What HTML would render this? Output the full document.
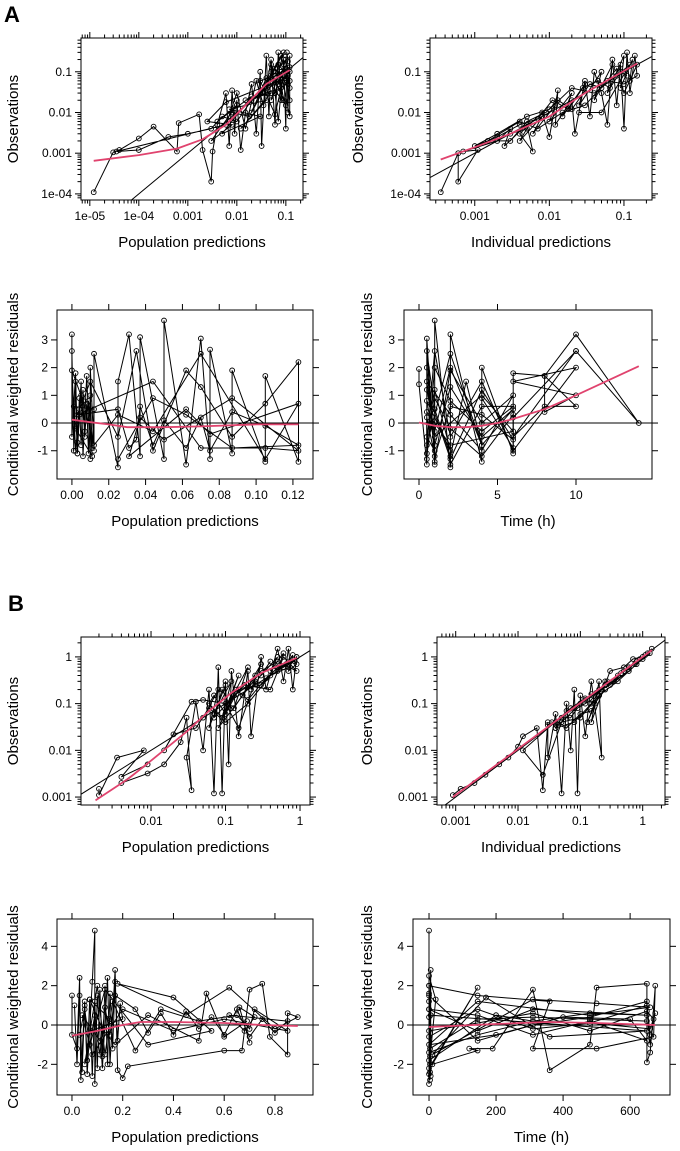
<!DOCTYPE html>
<html><head><meta charset="utf-8"><style>
html,body{margin:0;padding:0;background:#fff}
svg{display:block;font-family:"Liberation Sans",Arial,sans-serif}
</style></head><body>
<svg id="fig" width="680" height="1151" viewBox="0 0 680 1151">
<text x="4" y="22" font-size="22" font-weight="bold">A</text>
<text x="8" y="611" font-size="22" font-weight="bold">B</text>
</svg>
<script>
// ---- Panel A1 ----
const a1X=[1.2e-5,3e-5,4e-5,1e-4,2e-4,6e-4,6.5e-4,1.7e-3,2e-3,3e-3,3.2e-3,4e-3,6e-3,7e-3,8e-3,9e-3,1e-2,1.2e-2,1.5e-2,2e-2,2.5e-2,3e-2,3.2e-2,4e-2,4.5e-2,5e-2,6e-2,7e-2,8e-2,9e-2,1e-1,1.05e-1,1.1e-1,1.2e-1,1.2e-1,8e-2,4e-2,2e-2,1e-2,5e-3,3e-3,1e-3,4e-4,1e-4,3.5e-5,6e-3,1e-2,1.5e-2,2.5e-2,3.5e-2,5e-2,6e-2,7e-2,9e-2,1.1e-1,1.2e-1,6e-2,3e-2,1.8e-2,8e-3];
const a1Y=[1.1e-4,1.05e-3,1.2e-3,2.3e-3,4.5e-3,1.1e-3,5.5e-3,9e-3,1.2e-3,2e-4,1.1e-3,5e-3,3e-2,1.5e-3,3.5e-2,3e-3,2e-2,1.2e-3,1e-2,5e-2,3e-3,1e-1,1.5e-3,2.5e-1,8e-3,1.5e-1,5e-3,3e-1,2e-2,2e-1,4e-3,3e-1,1e-2,2.5e-1,8e-3,1e-1,3e-2,2e-2,6e-3,8e-3,4e-3,3e-3,2.5e-3,1.2e-3,1.1e-3,5e-3,3e-2,4e-3,6e-2,1.5e-2,2e-1,3e-2,6e-3,1.5e-1,5e-2,1.3e-1,8e-2,3e-2,8e-3,1e-2];
const a1X2=[0.04,0.1,0.06,0.12,0.05,0.09,0.07,0.11,0.03,0.08,0.12,0.06,0.1,0.04,0.02,0.09,0.05,0.11,0.07,0.12,0.03,0.06,0.1,0.08,0.015,0.05,0.012,0.04,0.007,0.03,0.005,0.02,0.004,0.01,0.003,0.008,0.0025,0.006,0.1,0.12];
const a1Y2=[0.05,0.2,0.03,0.06,0.1,0.02,0.15,0.08,0.03,0.25,0.04,0.12,0.015,0.07,0.01,0.3,0.02,0.18,0.05,0.1,0.06,0.009,0.12,0.04,0.02,0.03,0.004,0.02,0.012,0.008,0.003,0.025,0.006,0.015,0.002,0.005,0.006,0.018,0.07,0.02];
const a1LX=[1.2e-5,1e-4,6e-4,2e-3,6e-3,1.5e-2,4e-2,1.2e-1];
const a1LY=[6.5e-4,9e-4,1.3e-3,2.2e-3,5e-3,1.5e-2,5e-2,1.1e-1];
const a1XTicks=[1e-5,1e-4,1e-3,1e-2,1e-1];
const a1XLabels=["1e-05","1e-04","0.001","0.01","0.1"];
const a1YTicks=[1e-4,1e-3,1e-2,1e-1];
const a1YLabels=["1e-04","0.001","0.01","0.1"];
// ---- Panel A2 ----
const a2X=[3.5e-4,6e-4,6e-4,1.1e-3,7e-4,2e-3,3e-3,2.5e-3,5e-3,6e-3,4e-3,8e-3,1e-2,1.3e-2,1.2e-2,2e-2,2.2e-2,3e-2,3.5e-2,4e-2,5e-2,6e-2,7e-2,8e-2,9e-2,1e-1,1.1e-1,1.2e-1,1.4e-1,1.5e-1,1e-1,6e-2,3e-2,1.5e-2,7e-3,4e-3,1.5e-3,1e-3,2e-3,5e-3,1e-2,2e-2,4e-2,8e-2,1.2e-1,5e-2,2.5e-2];
const a2Y=[1.1e-4,1e-3,2e-4,1.2e-3,1.1e-3,2e-3,4e-3,1.5e-3,5e-3,1.1e-3,3e-3,1e-2,2.5e-3,3.5e-2,5e-3,2e-2,3e-3,6e-2,8e-3,1e-1,3e-2,5e-3,2e-1,1.5e-2,1.5e-1,4e-3,3e-1,3e-2,2.5e-1,8e-2,5e-2,6e-2,1.5e-2,1e-2,4e-3,6e-3,2e-3,1.5e-3,3e-3,8e-3,1.2e-2,4e-2,3e-2,8e-2,1.5e-1,1e-2,1e-2];
const a2X2=[0.003,0.005,0.004,0.008,0.006,0.012,0.01,0.02,0.015,0.03,0.025,0.05,0.04,0.07,0.06,0.1,0.09,0.13,0.12,0.15,0.1,0.08,0.05,0.035,0.02,0.013,0.009,0.005,0.003,0.0015,0.002,0.004,0.007,0.011,0.018,0.028,0.045,0.065,0.09,0.11];
const a2Y2=[0.003,0.004,0.002,0.008,0.003,0.015,0.006,0.03,0.008,0.05,0.015,0.1,0.02,0.15,0.03,0.25,0.04,0.2,0.06,0.15,0.03,0.12,0.04,0.05,0.012,0.02,0.01,0.006,0.002,0.002,0.0025,0.005,0.007,0.02,0.012,0.04,0.06,0.04,0.1,0.08];
const a2LX=[3.5e-4,1e-3,3e-3,1e-2,3e-2,1.5e-1];
const a2LY=[7e-4,1.4e-3,3e-3,8e-3,3e-2,1.6e-1];
const a2XTicks=[1e-3,1e-2,1e-1];
const a2XLabels=["0.001","0.01","0.1"];
// ---- Panel A3 ----
const a3X=[0,0,0.002,0.003,0.005,0.006,0.008,0.01,0.01,0.012,0.012,0.025,0.025,0.031,0.037,0.037,0.05,0.05,0.062,0.07,0.075,0.075,0.087,0.087,0.105,0.105,0.123,0.123,0.105,0.087,0.07,0.062,0.044,0.035,0.025,0.01,0.003,0.044,0.07,0.105,0.123,0.087,0.05,0.037,0.031,0.062,0.075,0.123,0.105,0.07,0.044,0.025,0.012,0.006,0,0.002,0.004];
const a3Y=[3.2,-0.5,1.8,-1.1,1.5,-1.2,1.7,-1.3,2,-1,2.5,-1.6,1.5,3.2,-1.2,3.1,-1.3,3.7,-1.5,3.05,-1.3,2.65,-1.1,1.9,-1.4,1.7,-1.4,2.2,0.7,-0.5,1.3,1.9,-1,2.6,-0.5,1.5,0.3,1.5,-0.9,-0.9,-1,0.9,-0.6,0.2,-1.2,0.5,-0.4,0.7,-1.3,2.5,-0.3,0.3,-0.8,0.8,1.9,-1,0.5];
const a3X2=[0,0.001,0.002,0.003,0.004,0.005,0.006,0.007,0.008,0.009,0.01,0.011,0.012,0.001,0.003,0.005,0.007,0.009,0.011,0.002,0.004,0.025,0.031,0.035,0.037,0.044,0.05,0.062,0.07,0.075,0.087,0.105,0.123,0.087,0.062,0.044,0.025];
const a3Y2=[2.6,-1,1.5,-1.1,0.9,-0.8,1.2,-0.5,0.7,-1.1,1,-0.9,0.5,0.6,-0.7,1,-0.3,0.8,-1.2,-0.2,0.3,0.5,-0.9,-0.6,0.6,-0.8,0.1,-0.9,0.2,-1.0,0.4,-0.1,-0.8,-0.9,0.3,0.9,-1.3];
const a3LX=[0,0.01,0.02,0.03,0.05,0.07,0.1,0.123];
const a3LY=[0.12,0.03,-0.05,-0.15,-0.15,-0.12,-0.05,-0.05];
const a3XTicks=[0,0.02,0.04,0.06,0.08,0.10,0.12];
const a3XLabels=["0.00","0.02","0.04","0.06","0.08","0.10","0.12"];
const aResYTicks=[-1,0,1,2,3];
const aResYLabels=["-1","0","1","2","3"];
// ---- Panel A4 ----
const a4X=[0,0,0.5,0.5,1,1,2,2,4,4,6,6,8,10,14,10,6,10,6,8,10,8,8,10,6,10,6,4,2,1,0.5,2,4,3,2,1,0.5,1,2,4,6,4,2,0.5,1,4,6,2,0.5,0.5,1,2,4,6,4,2];
const a4Y=[1.95,1.4,-1.5,3.05,-1.5,3.7,-1.6,3.2,-1.4,2,-1.1,1.8,1.7,3.2,0,2.6,0.2,2.6,-0.5,0.6,0.6,1.7,0.4,1,1.5,2,-1,1.5,-0.5,2.6,-0.8,2.5,-0.8,1.5,-1.2,0.5,2.6,-1.4,1.9,0,1,-1,0.3,1.5,-0.5,1,-0.3,-0.8,0.4,-1.3,2,0.8,-0.3,0.6,0.6,-1.5];
const a4X2=[0.5,1,0.5,1,2,0.5,1,2,4,6,4,2,1,0.5,2,4,6,4,2,1,0.5,0.5,1,2,4,6,6,4];
const a4Y2=[2,-1,-0.5,1.2,-1,0.8,-0.8,1.3,-0.5,0.5,-0.8,2,-0.3,1.2,-1.3,1.2,-0.6,0.3,0.6,-1.2,0.2,-1.1,0.9,-0.2,-1.2,0.3,-0.9,0.9];
const a4LX=[0,1,2,3,4,5,6,8,10,14];
const a4LY=[0.02,-0.1,-0.15,-0.15,-0.1,0,0.15,0.5,1.0,2.05];
const a4XTicks=[0,5,10];
const a4XLabels=["0","5","10"];
// ---- Panel B1 ----
const b1X=[2e-3,2e-3,3.5e-3,8e-3,4e-3,9e-3,4e-3,9e-3,1.5e-2,2.5e-2,3e-2,3.5e-2,3e-2,4e-2,5e-2,6e-2,7e-2,8e-2,9e-2,1e-1,1.1e-1,1.2e-1,1.5e-1,2e-1,2.2e-1,3e-1,3.5e-1,5e-1,6e-1,7e-1,8e-1,9e-1,7e-1,4e-1,2e-1,1e-1,6e-2,4e-2,2e-2,1.5e-2,3.5e-2,5e-2,1e-1,1.5e-1,2.5e-1,1.3e-1,8e-2,3e-1,5e-1,9e-1,6e-1,4e-1,1.8e-1,7e-2,9e-2,1.2e-1];
const b1Y=[1.5e-3,1.1e-3,7e-3,1e-2,2.7e-3,5e-3,2e-3,3.2e-3,5e-3,1.5e-2,5e-2,1.4e-3,7e-3,1.1e-1,1e-2,2e-1,1.2e-3,6e-1,1.2e-3,3e-1,5e-3,5e-1,2e-2,5e-1,2e-2,1e0,2e-1,1.5e0,3e-1,1.5e0,2e-1,1e0,6e-1,4e-1,1e-1,4e-2,8e-2,3e-2,2.2e-2,1e-2,1.1e-1,1.2e-1,1e-1,3e-2,3e-1,1.5e-1,3e-2,5e-1,8e-1,5e-1,1e0,2e-1,2.5e-1,5e-2,2e-1,8e-2];
const b1X2=[0.05,0.08,0.06,0.1,0.07,0.12,0.09,0.15,0.11,0.2,0.13,0.25,0.17,0.3,0.22,0.4,0.3,0.5,0.4,0.6,0.5,0.7,0.6,0.8,0.7,0.9,0.8,0.5,0.3,0.15,0.1,0.07,0.06,0.09,0.14,0.2,0.35,0.45,0.65,0.85];
const b1Y2=[0.05,0.2,0.03,0.25,0.06,0.3,0.05,0.4,0.1,0.6,0.08,0.4,0.15,0.7,0.2,0.8,0.4,1.0,0.5,1.2,0.5,0.8,0.6,1.1,0.5,0.7,0.9,0.6,0.25,0.2,0.06,0.15,0.1,0.05,0.2,0.12,0.35,0.5,0.7,0.8];
const b1LX=[1.8e-3,5e-3,1e-2,3e-2,6e-2,1.2e-1,3e-1,9e-1];
const b1LY=[8.5e-4,2.5e-3,6e-3,2.5e-2,7e-2,1.7e-1,4.5e-1,9.5e-1];
const b1XTicks=[1e-2,1e-1,1];
const b1XLabels=["0.01","0.1","1"];
const bYTicks=[1e-3,1e-2,1e-1,1];
const bYLabels=["0.001","0.01","0.1","1"];
// ---- Panel B2 ----
const b2X=[9e-4,1.2e-3,2e-3,3e-3,5e-3,7e-3,1e-2,1.2e-2,2e-2,2.5e-2,3e-2,3e-2,4e-2,5e-2,6e-2,7e-2,8e-2,9e-2,1e-1,1.2e-1,1.5e-1,2.2e-1,2e-1,1.5e-1,3e-1,5e-1,7e-1,1,1.4,1.2,8e-1,4e-1,2e-1,1e-1,5e-2,2.5e-2,1.2e-2,7e-2,1.2e-1,3e-1,6e-1,1e-1,4e-2,8e-2,1.5e-1,2.5e-1];
const b2Y=[1.1e-3,1.5e-3,2e-3,3e-3,5e-3,7e-3,1.2e-2,2e-2,3e-2,1.4e-3,4e-2,7e-3,6e-2,1.2e-3,1e-1,1e-2,2e-1,1.2e-3,1.5e-1,2e-2,3e-1,7e-3,3e-1,4e-2,5e-1,6e-1,9e-1,1,1.5,1.2,7e-1,3e-1,1.5e-1,5e-2,4e-2,3e-3,1e-2,8e-2,1.3e-1,2.5e-1,5e-1,1e-1,3e-2,4e-2,1e-1,3e-1];
const b2X2=[0.03,0.04,0.05,0.06,0.08,0.1,0.12,0.15,0.18,0.22,0.27,0.33,0.4,0.5,0.6,0.75,0.9,1.1,1.3,1.0,0.8,0.6,0.45,0.35,0.25,0.2,0.15,0.12,0.09,0.07,0.05,0.04,0.035,0.06,0.1,0.15,0.2,0.13,0.17,0.25];
const b2Y2=[0.035,0.04,0.04,0.07,0.08,0.1,0.12,0.16,0.17,0.2,0.3,0.3,0.4,0.5,0.6,0.7,0.9,1.1,1.2,0.9,0.8,0.55,0.45,0.3,0.25,0.2,0.12,0.1,0.08,0.05,0.05,0.03,0.04,0.03,0.06,0.07,0.15,0.04,0.1,0.2];
const b2LX=[9e-4,1.4];
const b2LY=[1e-3,1.4];
const b2XTicks=[1e-3,1e-2,1e-1,1];
const b2XLabels=["0.001","0.01","0.1","1"];
// ---- Panel B3 ----
const b3X=[0,0,0.02,0.03,0.035,0.05,0.06,0.08,0.09,0.09,0.1,0.12,0.14,0.15,0.17,0.18,0.2,0.22,0.6,0.67,0.7,0.75,0.78,0.85,0.85,0.89,0.8,0.62,0.45,0.18,0.4,0.55,0.3,0.13,0.05,0.1,0.13,0.16,0.25,0.35,0.5,0.65,0.7,0.72,0.85,0.6,0.4,0.2,0.08,0.04,0.11,0.15,0.07,0.12,0.17,0.3,0.5,0.53,0.6,0.69];
const b3Y=[1.5,-0.5,-1.2,2.4,-2.8,1.2,-2.5,2.2,4.8,-3,1.5,-2.2,2.4,-2,2.8,-2.3,-2.7,-2.1,-1.3,-1.3,1.8,2.1,-0.6,-1.5,0.6,0.4,-0.2,1.9,0.5,2.1,1.4,-0.3,-1,1.8,-2,2,-1.5,1.2,-1.3,0.8,0.2,0.5,-0.2,0.8,-0.3,0.3,-0.3,0.8,-1.5,0.5,-0.8,0.3,1.3,-0.2,-1,0.5,-0.8,1.6,-0.6,0.2];
const b3X2=[0.01,0.02,0.03,0.04,0.05,0.06,0.07,0.08,0.09,0.1,0.11,0.12,0.13,0.14,0.15,0.16,0.17,0.18,0.19,0.2,0.03,0.05,0.07,0.09,0.11,0.13,0.15,0.17,0.25,0.3,0.35,0.4,0.45,0.5,0.55,0.6,0.65,0.7,0.75,0.8,0.85,0.62,0.68,0.72,0.66,0.7];
const b3Y2=[1,-2,1.5,-2.4,1,-1.8,1.3,-2.6,1.2,-2.2,1.8,-1.6,2,-2,1.6,-1.2,2.2,-0.8,1.1,0.3,-0.5,0.8,-1,0.5,-1.5,0.9,-0.5,1.5,0.8,-0.4,0.6,-0.5,0.7,-0.2,0.4,-0.5,0.8,-0.6,0.3,-0.4,0.2,0.5,-0.3,0.4,0.9,-0.9];
const b3LX=[0,0.1,0.2,0.27,0.4,0.6,0.75,0.89];
const b3LY=[-0.55,-0.3,0,0.15,0.15,0.1,0,-0.05];
const b3XTicks=[0,0.2,0.4,0.6,0.8];
const b3XLabels=["0.0","0.2","0.4","0.6","0.8"];
const bResYTicks=[-2,0,2,4];
const bResYLabels=["-2","0","2","4"];
// ---- Panel B4 ----
const b4X=[0,0,5,5,0,20,0,145,10,145,120,190,310,360,480,500,650,650,660,675,670,500,310,360,145,0,0,200,310,480,650,310,145,0,145,310,480,650,600,400,200,0,145,480,660,500,310,10,170,360,650,5,0];
const b4Y=[4.8,-3,2.8,-2.6,2.5,1.3,-2.2,1.9,-2,-1.3,-1.2,-1.2,1.8,-2.3,-1,1.9,2.1,-1.9,-1.4,2,-0.6,-1.2,-1.2,1.2,1.5,2,-1.8,0.5,0.2,0.6,0.5,0.8,-0.3,0.8,0.5,-0.5,0.2,-0.8,0.3,0.4,-0.5,-1,1.2,0.5,0.9,1.1,1.3,-1.5,1.4,-0.6,-0.3,0.5,-2.5];
const b4X2=[0,3,0,3,0,3,0,3,0,3,145,310,480,650,660,650,480,310,145,0,0,145,310,480,650,670,660,650,480,310,145,0,0,145,310,480,660,675];
const b4Y2=[2,-2.8,1.6,-2.4,1.2,-2,0.8,-1.6,0.4,-1.2,0.3,0.4,0.3,0.2,-0.5,1,0.1,-0.2,0.8,-0.6,-0.3,0.1,0.6,-0.3,0.7,0.3,-1,1.2,0.4,0,-0.8,1.5,-1.4,-0.5,0.2,0.1,-0.2,0.6];
const b4LX=[0,200,350,500,675];
const b4LY=[-0.1,0.05,0.15,0.1,0];
const b4XTicks=[0,200,400,600];
const b4XLabels=["0","200","400","600"];

const NS="http://www.w3.org/2000/svg";
const svg=document.getElementById('fig');
function mk(tag,attrs,parent){const e=document.createElementNS(NS,tag);for(const k in attrs)e.setAttribute(k,attrs[k]);(parent||svg).appendChild(e);return e;}
let clipN=0;
function panel(c){
  const g=mk('g',{});
  
  
  const [x0,y0,x1,y1]=c.box;
  const tx=v=>c.xlog?Math.log10(v):v, ty=v=>c.ylog?Math.log10(v):v;
  const sx=v=>x0+(tx(v)-c.xr[0])/(c.xr[1]-c.xr[0])*(x1-x0);
  const sy=v=>y1-(ty(v)-c.yr[0])/(c.yr[1]-c.yr[0])*(y1-y0);
  const id='clip'+(clipN++);
  const cp=mk('clipPath',{id:id},g);mk('rect',{x:x0,y:y0,width:x1-x0,height:y1-y0},cp);
  const inner=mk('g',{'clip-path':'url(#'+id+')'},g);
  const tg=mk('g',{stroke:'#000','stroke-width':1},g);
  function ticksFor(log,r,ticks){
    const out=[];
    if(log){for(let n=Math.floor(r[0]);n<=Math.ceil(r[1]);n++)for(let k=1;k<=9;k++){const lv=n+Math.log10(k);if(lv>=r[0]&&lv<=r[1])out.push({v:Math.pow(10,lv),maj:k===1});}}
    else ticks.forEach(v=>out.push({v:v,maj:true}));
    return out;
  }
  ticksFor(c.xlog,c.xr,c.xt).forEach(t=>{const X=sx(t.v),L=t.maj?6:3.5;
    mk('line',{x1:X,x2:X,y1:y1,y2:y1+L},tg);mk('line',{x1:X,x2:X,y1:y0,y2:y0-L},tg);});
  ticksFor(c.ylog,c.yr,c.yt).forEach(t=>{const Y=sy(t.v),L=t.maj?6:3.5;
    mk('line',{x1:x0,x2:x0-L,y1:Y,y2:Y},tg);mk('line',{x1:x1,x2:x1+L,y1:Y,y2:Y},tg);});
  c.xt.forEach((v,i)=>{const t=mk('text',{x:sx(v),y:y1+20,'font-size':12,'text-anchor':'middle'},g);t.textContent=c.xl[i];
    
    });
  c.yt.forEach((v,i)=>{const t=mk('text',{x:x0-9,y:sy(v)+4,'font-size':12,'text-anchor':'end'},g);t.textContent=c.yl[i];
    
    });
  if(c.identity){const a=Math.max(c.xr[0],c.yr[0])-1,b=Math.min(c.xr[1],c.yr[1])+1;
    const l=mk('line',{x1:sx(Math.pow(10,a)),y1:sy(Math.pow(10,a)),x2:sx(Math.pow(10,b)),y2:sy(Math.pow(10,b)),stroke:'#000','stroke-width':1},inner);
    
    }
  else{const l=mk('line',{x1:x0,x2:x1,y1:sy(0),y2:sy(0),stroke:'#000','stroke-width':1},inner);
    
    }
  [[c.px,c.py],[c.px2,c.py2]].forEach(([X,Y])=>{
    const pts=X.map((v,i)=>sx(v).toFixed(1)+','+sy(Y[i]).toFixed(1)).join(' ');
    const pl=mk('polyline',{points:pts,fill:'none',stroke:'#000','stroke-width':1},inner);
    
    
    X.forEach((v,i)=>{const ci=mk('circle',{cx:sx(v),cy:sy(Y[i]),r:2.4,fill:'none',stroke:'#000','stroke-width':0.9},inner);
      
      });
  });
  const lp=c.lx.map((v,i)=>sx(v).toFixed(1)+','+sy(c.ly[i]).toFixed(1)).join(' ');
  const lo=mk('polyline',{points:lp,fill:'none',stroke:'#e0436e','stroke-width':1.8,'stroke-linejoin':'round'},inner);
  
  
  const fr=mk('rect',{x:x0,y:y0,width:x1-x0,height:y1-y0,fill:'none',stroke:'#000','stroke-width':1},g);
  
  
  const xt=mk('text',{x:(x0+x1)/2,y:y1+47,'font-size':15,'text-anchor':'middle'},g);xt.textContent=c.xtitle;
  
  
  const yc=(y0+y1)/2;
  const yt=mk('text',{x:c.ytx,y:yc,'font-size':15,'text-anchor':'middle',transform:'rotate(-90 '+c.ytx+' '+yc+')'},g);yt.textContent=c.ytitle;
  
  
}
const LOGY_A=[-4.15,-0.17], LOGY_B=[-3.17,0.426];
panel({name:'panel-a-obs-vs-pred',box:[81,38,303,200],xlog:true,ylog:true,xr:[-5.18,-0.65],yr:LOGY_A,xt:a1XTicks,xl:a1XLabels,yt:a1YTicks,yl:a1YLabels,px:a1X,py:a1Y,px2:a1X2,py2:a1Y2,lx:a1LX,ly:a1LY,identity:true,xtitle:'Population predictions',ytitle:'Observations',ytx:18});
panel({name:'panel-a-obs-vs-ipred',box:[430,38,652,200],xlog:true,ylog:true,xr:[-3.60,-0.624],yr:LOGY_A,xt:a2XTicks,xl:a2XLabels,yt:a1YTicks,yl:a1YLabels,px:a2X,py:a2Y,px2:a2X2,py2:a2Y2,lx:a2LX,ly:a2LY,identity:true,xtitle:'Individual predictions',ytitle:'Observations',ytx:363});
panel({name:'panel-a-cwres-vs-pred',box:[57,310,313,479],xlog:false,ylog:false,xr:[-0.0081,0.1309],yr:[-2.02,4.08],xt:a3XTicks,xl:a3XLabels,yt:aResYTicks,yl:aResYLabels,px:a3X,py:a3Y,px2:a3X2,py2:a3Y2,lx:a3LX,ly:a3LY,identity:false,xtitle:'Population predictions',ytitle:'Conditional weighted residuals',ytx:18});
panel({name:'panel-a-cwres-vs-time',box:[404,310,652,479],xlog:false,ylog:false,xr:[-0.955,14.84],yr:[-2.02,4.08],xt:a4XTicks,xl:a4XLabels,yt:aResYTicks,yl:aResYLabels,px:a4X,py:a4Y,px2:a4X2,py2:a4Y2,lx:a4LX,ly:a4LY,identity:false,xtitle:'Time (h)',ytitle:'Conditional weighted residuals',ytx:372});
panel({name:'panel-b-obs-vs-pred',box:[81,637,310,805],xlog:true,ylog:true,xr:[-2.94,0.134],yr:LOGY_B,xt:b1XTicks,xl:b1XLabels,yt:bYTicks,yl:bYLabels,px:b1X,py:b1Y,px2:b1X2,py2:b1Y2,lx:b1LX,ly:b1LY,identity:true,xtitle:'Population predictions',ytitle:'Observations',ytx:18});
panel({name:'panel-b-obs-vs-ipred',box:[437,637,665,805],xlog:true,ylog:true,xr:[-3.30,0.358],yr:LOGY_B,xt:b2XTicks,xl:b2XLabels,yt:bYTicks,yl:bYLabels,px:b2X,py:b2Y,px2:b2X2,py2:b2Y2,lx:b2LX,ly:b2LY,identity:true,xtitle:'Individual predictions',ytitle:'Observations',ytx:372});
panel({name:'panel-b-cwres-vs-pred',box:[57,919,313,1095],xlog:false,ylog:false,xr:[-0.059,0.95],yr:[-3.56,5.39],xt:b3XTicks,xl:b3XLabels,yt:bResYTicks,yl:bResYLabels,px:b3X,py:b3Y,px2:b3X2,py2:b3Y2,lx:b3LX,ly:b3LY,identity:false,xtitle:'Population predictions',ytitle:'Conditional weighted residuals',ytx:18});
panel({name:'panel-b-cwres-vs-time',box:[413,919,670,1095],xlog:false,ylog:false,xr:[-47.8,719],yr:[-3.56,5.39],xt:b4XTicks,xl:b4XLabels,yt:bResYTicks,yl:bResYLabels,px:b4X,py:b4Y,px2:b4X2,py2:b4Y2,lx:b4LX,ly:b4LY,identity:false,xtitle:'Time (h)',ytitle:'Conditional weighted residuals',ytx:372});
</script>
</body></html>
